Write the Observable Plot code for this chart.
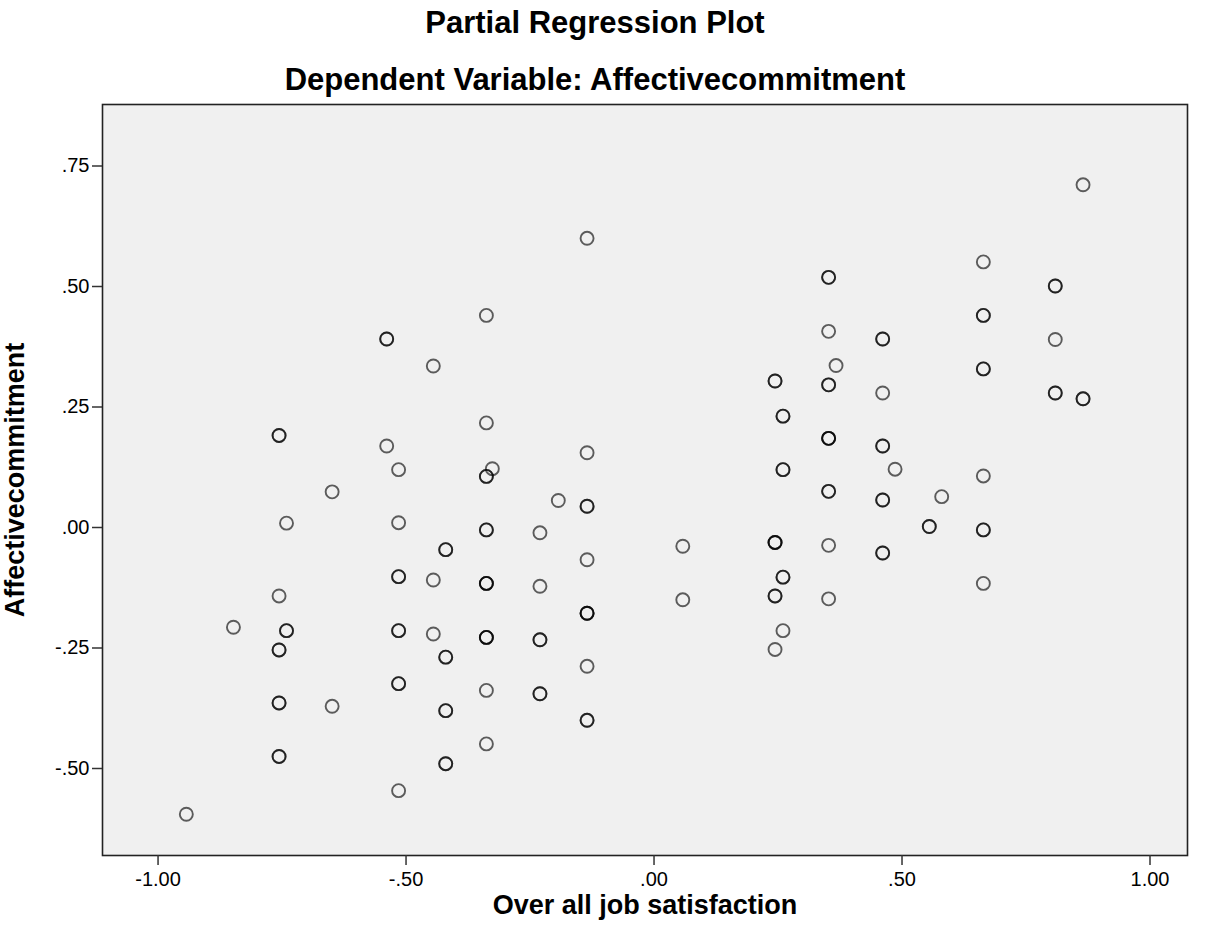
<!DOCTYPE html>
<html>
<head>
<meta charset="utf-8">
<script src="https://cdn.jsdelivr.net/npm/d3@7"></script>
<script src="https://cdn.jsdelivr.net/npm/@observablehq/plot@0.6"></script>
<style>
  html, body { margin: 0; padding: 0; background: #ffffff; }
  body { width: 1206px; height: 944px; position: relative; overflow: hidden; font-family: "Liberation Sans", Arial, sans-serif; }
  .ttl { position: absolute; left: 0; width: 1206px; text-align: center; font-weight: bold; font-size: 31px; line-height: 31px; color: #000; }
  #chart { position: absolute; left: 0; top: 94px; }
</style>
</head>
<body>
<div class="ttl" style="top:7px; left:-8px;">Partial Regression Plot</div>
<div class="ttl" style="top:64px; left:-8px;">Dependent Variable: Affectivecommitment</div>
<div id="chart"></div>
<script>
// Residualised predictor (x) and dependent variable (y).
// Repeated pairs are coincident cases (drawn darker in the original).
const jobSatisfaction = [
  -0.943, -0.848,
  -0.756, -0.756, -0.756, -0.756, -0.756, -0.756, -0.756, -0.756, -0.756,
  -0.741, -0.741, -0.741,
  -0.649, -0.649,
  -0.539, -0.539, -0.539,
  -0.515, -0.515, -0.515, -0.515, -0.515, -0.515, -0.515, -0.515, -0.515,
  -0.445, -0.445, -0.445,
  -0.420, -0.420, -0.420, -0.420, -0.420, -0.420, -0.420, -0.420,
  -0.338, -0.338, -0.338, -0.338, -0.338, -0.338, -0.338, -0.338, -0.338, -0.338, -0.338, -0.338, -0.338, -0.338,
  -0.326,
  -0.230, -0.230, -0.230, -0.230, -0.230, -0.230,
  -0.193,
  -0.135, -0.135, -0.135, -0.135, -0.135, -0.135, -0.135, -0.135, -0.135, -0.135, -0.135,
  0.058, 0.058,
  0.244, 0.244, 0.244, 0.244, 0.244, 0.244, 0.244, 0.244,
  0.260, 0.260, 0.260, 0.260, 0.260, 0.260, 0.260,
  0.352, 0.352, 0.352, 0.352, 0.352, 0.352, 0.352, 0.352, 0.352, 0.352, 0.352, 0.352,
  0.367,
  0.461, 0.461, 0.461, 0.461, 0.461, 0.461, 0.461, 0.461, 0.461,
  0.486,
  0.555, 0.555,
  0.580,
  0.664, 0.664, 0.664, 0.664, 0.664, 0.664, 0.664, 0.664, 0.664,
  0.809, 0.809, 0.809, 0.809, 0.809,
  0.865, 0.865, 0.865
];
const affectiveCommitment = [
  -0.595, -0.207,
  0.191, 0.191, -0.142, -0.254, -0.254, -0.364, -0.364, -0.475, -0.475,
  0.009, -0.214, -0.214,
  0.074, -0.371,
  0.391, 0.391, 0.169,
  0.120, 0.010, -0.102, -0.102, -0.214, -0.214, -0.324, -0.324, -0.546,
  0.335, -0.109, -0.221,
  -0.046, -0.046, -0.269, -0.269, -0.380, -0.380, -0.490, -0.490,
  0.440, 0.217, 0.106, 0.106, -0.005, -0.005, -0.116, -0.116, -0.116, -0.228, -0.228, -0.228, -0.338, -0.449,
  0.122,
  -0.011, -0.122, -0.233, -0.233, -0.345, -0.345,
  0.056,
  0.600, 0.155, 0.044, 0.044, -0.067, -0.178, -0.178, -0.178, -0.288, -0.400, -0.400,
  -0.039, -0.150,
  0.304, 0.304, -0.031, -0.031, -0.031, -0.142, -0.142, -0.253,
  0.231, 0.231, 0.120, 0.120, -0.103, -0.103, -0.214,
  0.519, 0.519, 0.407, 0.296, 0.296, 0.185, 0.185, 0.185, 0.075, 0.075, -0.037, -0.148,
  0.336,
  0.391, 0.391, 0.279, 0.169, 0.169, 0.057, 0.057, -0.053, -0.053,
  0.121,
  0.002, 0.002,
  0.064,
  0.551, 0.440, 0.440, 0.329, 0.329, 0.107, -0.005, -0.005, -0.116,
  0.501, 0.501, 0.390, 0.279, 0.279,
  0.711, 0.267, 0.267
];
const xTicks = [-1.0, -0.5, 0.0, 0.5, 1.0];
const yTicks = [-0.5, -0.25, 0.0, 0.25, 0.5, 0.75];
const xTitle = "Over all job satisfaction";
const yTitle = "Affectivecommitment";

const points = jobSatisfaction.map((x, i) => ({x, y: affectiveCommitment[i]}));
const spssFormat = d => {
  const s = Math.abs(d).toFixed(2).replace(/^0/, "");
  return (d < 0 ? "-" : "") + s;
};

const chart = Plot.plot({
  width: 1206,
  height: 850,
  marginLeft: 102,
  marginRight: 19,
  marginTop: 10,
  marginBottom: 89,
  style: { fontFamily: "'Liberation Sans', Arial, sans-serif", fontSize: "20px", color: "#000", background: "transparent" },
  x: { domain: [-1.112, 1.0756], label: null },
  y: { domain: [-0.6805, 0.8776], label: null },
  marks: [
    Plot.frame({ fill: "#f0f0f0", stroke: null }),
    Plot.dot(points, { x: "x", y: "y", r: 6.5, stroke: "#000", strokeOpacity: 0.62, strokeWidth: 1.9, fill: "none" }),
    Plot.frame({ stroke: "#222", strokeWidth: 1.6 }),
    Plot.axisX({ ticks: xTicks, tickFormat: spssFormat, tickSize: 10, tickPadding: 6, stroke: "#333", strokeWidth: 1.5, fontSize: 20, label: null }),
    Plot.axisY({ ticks: yTicks, tickFormat: spssFormat, tickSize: 10, tickPadding: 3, stroke: "#333", strokeWidth: 1.5, fontSize: 20, label: null }),
    Plot.text([xTitle], { text: d => d, frameAnchor: "bottom", dy: 58, fontSize: 27, fontWeight: "bold", fill: "#000" }),
    Plot.text([yTitle], { text: d => d, frameAnchor: "left", textAnchor: "middle", dx: -87, rotate: -90, fontSize: 27, fontWeight: "bold", fill: "#000" })
  ]
});
document.getElementById("chart").appendChild(chart);
</script>
</body>
</html>
